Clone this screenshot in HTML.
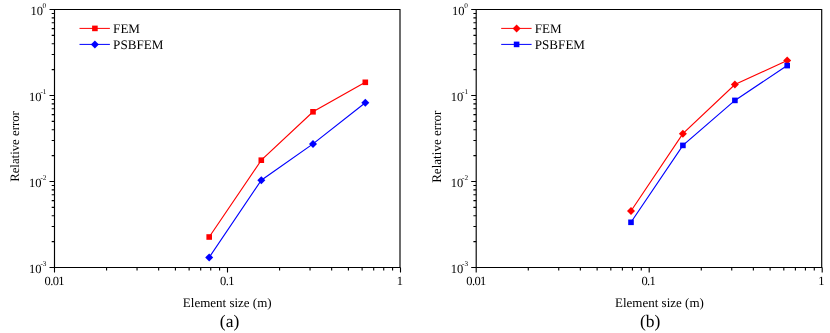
<!DOCTYPE html>
<html><head><meta charset="utf-8"><style>
html,body{margin:0;padding:0;background:#fff;}
svg{display:block;will-change:transform;}
text{font-family:"Liberation Serif",serif;fill:#000;text-rendering:geometricPrecision;}
.t{font-size:12.5px;}
.x{letter-spacing:-0.6px;}
.sup{font-size:7.3px;}
.a{font-size:13px;}
.l{font-size:13.1px;}
.c{font-size:17.5px;}
</style></head><body>
<svg width="830" height="333" viewBox="0 0 830 333">
<rect width="830" height="333" fill="#fff"/>
<path d="M54.5,9.5H400.0" stroke="#000" stroke-width="1.2" fill="none"/>
<path d="M400.0,8.9V267.5" stroke="#000" stroke-width="1.15" fill="none"/>
<path d="M54.5,8.9V268.1" stroke="#000" stroke-width="1.15" fill="none"/>
<path d="M54.5,267.5H400.5" stroke="#000" stroke-width="1.2" fill="none"/>
<path d="M54.50,267.5v5 M106.58,267.5v3 M137.04,267.5v3 M158.66,267.5v3 M175.42,267.5v3 M189.12,267.5v3 M200.70,267.5v3 M210.73,267.5v3 M219.58,267.5v3 M227.50,267.5v5 M279.58,267.5v3 M310.04,267.5v3 M331.66,267.5v3 M348.42,267.5v3 M362.12,267.5v3 M373.70,267.5v3 M383.73,267.5v3 M392.58,267.5v3 M400.50,267.5v5 M54.5,9.50h-5 M54.5,69.61h-2.8 M54.5,54.47h-2.8 M54.5,43.72h-2.8 M54.5,35.39h-2.8 M54.5,28.58h-2.8 M54.5,22.82h-2.8 M54.5,17.83h-2.8 M54.5,13.44h-2.8 M54.5,95.50h-5 M54.5,155.61h-2.8 M54.5,140.47h-2.8 M54.5,129.72h-2.8 M54.5,121.39h-2.8 M54.5,114.58h-2.8 M54.5,108.82h-2.8 M54.5,103.83h-2.8 M54.5,99.44h-2.8 M54.5,181.50h-5 M54.5,241.61h-2.8 M54.5,226.47h-2.8 M54.5,215.72h-2.8 M54.5,207.39h-2.8 M54.5,200.58h-2.8 M54.5,194.82h-2.8 M54.5,189.83h-2.8 M54.5,185.44h-2.8 M54.5,267.50h-5" stroke="#000" stroke-width="1.1" fill="none"/>
<text x="54.30" y="285.3" text-anchor="middle" class="t x">0.01</text>
<text x="227.00" y="285.3" text-anchor="middle" class="t x">0.1</text>
<text x="399.50" y="285.3" text-anchor="middle" class="t x">1</text>
<text x="42.90" y="14.60" text-anchor="end" class="t">10</text>
<text x="42.50" y="8.20" text-anchor="start" class="sup">0</text>
<text x="41.60" y="100.60" text-anchor="end" class="t">10</text>
<text x="40.40" y="94.20" text-anchor="start" class="sup">-1</text>
<text x="41.60" y="186.60" text-anchor="end" class="t">10</text>
<text x="40.40" y="180.20" text-anchor="start" class="sup">-2</text>
<text x="41.60" y="272.60" text-anchor="end" class="t">10</text>
<text x="40.40" y="266.20" text-anchor="start" class="sup">-3</text>
<text x="227.25" y="306.6" text-anchor="middle" class="a">Element size (m)</text>
<text x="229.55" y="326.8" text-anchor="middle" class="c">(a)</text>
<text transform="translate(18.80,146.5) rotate(-90)" text-anchor="middle" class="a" style="font-size:12.8px">Relative error</text>
<path d="M79.5,28.4h30.4" stroke="#ff0000" stroke-width="1" fill="none"/>
<rect x="92.10" y="25.60" width="5.6" height="5.6" fill="#ff0000"/>
<text x="113.1" y="32.80" class="l">FEM</text>
<path d="M79.5,44.4h30.4" stroke="#0000ff" stroke-width="1" fill="none"/>
<path d="M94.90,40.40l4,4l-4,4l-4,-4z" fill="#0000ff"/>
<text x="113.1" y="48.80" class="l">PSBFEM</text>
<path d="M209.20,237.00 L261.30,160.20 L313.00,111.80 L365.30,82.30" stroke="#ff0000" stroke-width="1.15" fill="none"/>
<rect x="206.40" y="234.20" width="5.6" height="5.6" fill="#ff0000"/>
<rect x="258.50" y="157.40" width="5.6" height="5.6" fill="#ff0000"/>
<rect x="310.20" y="109.00" width="5.6" height="5.6" fill="#ff0000"/>
<rect x="362.50" y="79.50" width="5.6" height="5.6" fill="#ff0000"/>
<path d="M209.20,257.40 L261.30,180.20 L313.00,143.90 L365.30,102.70" stroke="#0000ff" stroke-width="1.15" fill="none"/>
<path d="M209.20,253.40l4,4l-4,4l-4,-4z" fill="#0000ff"/>
<path d="M261.30,176.20l4,4l-4,4l-4,-4z" fill="#0000ff"/>
<path d="M313.00,139.90l4,4l-4,4l-4,-4z" fill="#0000ff"/>
<path d="M365.30,98.70l4,4l-4,4l-4,-4z" fill="#0000ff"/>
<path d="M476.2,9.5H821.7" stroke="#000" stroke-width="1.2" fill="none"/>
<path d="M821.7,8.9V267.5" stroke="#000" stroke-width="1.15" fill="none"/>
<path d="M476.2,8.9V268.1" stroke="#000" stroke-width="1.15" fill="none"/>
<path d="M476.2,267.5H822.2" stroke="#000" stroke-width="1.2" fill="none"/>
<path d="M476.20,267.5v5 M528.28,267.5v3 M558.74,267.5v3 M580.36,267.5v3 M597.12,267.5v3 M610.82,267.5v3 M622.40,267.5v3 M632.43,267.5v3 M641.28,267.5v3 M649.20,267.5v5 M701.28,267.5v3 M731.74,267.5v3 M753.36,267.5v3 M770.12,267.5v3 M783.82,267.5v3 M795.40,267.5v3 M805.43,267.5v3 M814.28,267.5v3 M822.20,267.5v5 M476.2,9.50h-5 M476.2,69.61h-2.8 M476.2,54.47h-2.8 M476.2,43.72h-2.8 M476.2,35.39h-2.8 M476.2,28.58h-2.8 M476.2,22.82h-2.8 M476.2,17.83h-2.8 M476.2,13.44h-2.8 M476.2,95.50h-5 M476.2,155.61h-2.8 M476.2,140.47h-2.8 M476.2,129.72h-2.8 M476.2,121.39h-2.8 M476.2,114.58h-2.8 M476.2,108.82h-2.8 M476.2,103.83h-2.8 M476.2,99.44h-2.8 M476.2,181.50h-5 M476.2,241.61h-2.8 M476.2,226.47h-2.8 M476.2,215.72h-2.8 M476.2,207.39h-2.8 M476.2,200.58h-2.8 M476.2,194.82h-2.8 M476.2,189.83h-2.8 M476.2,185.44h-2.8 M476.2,267.50h-5" stroke="#000" stroke-width="1.1" fill="none"/>
<text x="476.00" y="285.3" text-anchor="middle" class="t x">0.01</text>
<text x="648.30" y="285.3" text-anchor="middle" class="t x">0.1</text>
<text x="821.20" y="285.3" text-anchor="middle" class="t x">1</text>
<text x="464.60" y="14.60" text-anchor="end" class="t">10</text>
<text x="464.20" y="8.20" text-anchor="start" class="sup">0</text>
<text x="463.30" y="100.60" text-anchor="end" class="t">10</text>
<text x="462.10" y="94.20" text-anchor="start" class="sup">-1</text>
<text x="463.30" y="186.60" text-anchor="end" class="t">10</text>
<text x="462.10" y="180.20" text-anchor="start" class="sup">-2</text>
<text x="463.30" y="272.60" text-anchor="end" class="t">10</text>
<text x="462.10" y="266.20" text-anchor="start" class="sup">-3</text>
<text x="659.45" y="306.6" text-anchor="middle" class="a">Element size (m)</text>
<text x="650.25" y="327.3" text-anchor="middle" class="c">(b)</text>
<text transform="translate(440.50,146.7) rotate(-90)" text-anchor="middle" class="a" style="font-size:13.1px">Relative error</text>
<path d="M501.2,28.4h30.4" stroke="#ff0000" stroke-width="1" fill="none"/>
<path d="M516.60,24.40l4,4l-4,4l-4,-4z" fill="#ff0000"/>
<text x="534.8" y="32.80" class="l">FEM</text>
<path d="M501.2,44.4h30.4" stroke="#0000ff" stroke-width="1" fill="none"/>
<rect x="513.80" y="41.60" width="5.6" height="5.6" fill="#0000ff"/>
<text x="534.8" y="48.80" class="l">PSBFEM</text>
<path d="M631.00,211.00 L682.90,133.70 L734.90,84.60 L787.20,60.40" stroke="#ff0000" stroke-width="1.15" fill="none"/>
<path d="M631.00,207.00l4,4l-4,4l-4,-4z" fill="#ff0000"/>
<path d="M682.90,129.70l4,4l-4,4l-4,-4z" fill="#ff0000"/>
<path d="M734.90,80.60l4,4l-4,4l-4,-4z" fill="#ff0000"/>
<path d="M787.20,56.40l4,4l-4,4l-4,-4z" fill="#ff0000"/>
<path d="M631.00,222.30 L682.90,145.40 L734.90,100.40 L787.20,65.60" stroke="#0000ff" stroke-width="1.15" fill="none"/>
<rect x="628.20" y="219.50" width="5.6" height="5.6" fill="#0000ff"/>
<rect x="680.10" y="142.60" width="5.6" height="5.6" fill="#0000ff"/>
<rect x="732.10" y="97.60" width="5.6" height="5.6" fill="#0000ff"/>
<rect x="784.40" y="62.80" width="5.6" height="5.6" fill="#0000ff"/>
</svg>
</body></html>
